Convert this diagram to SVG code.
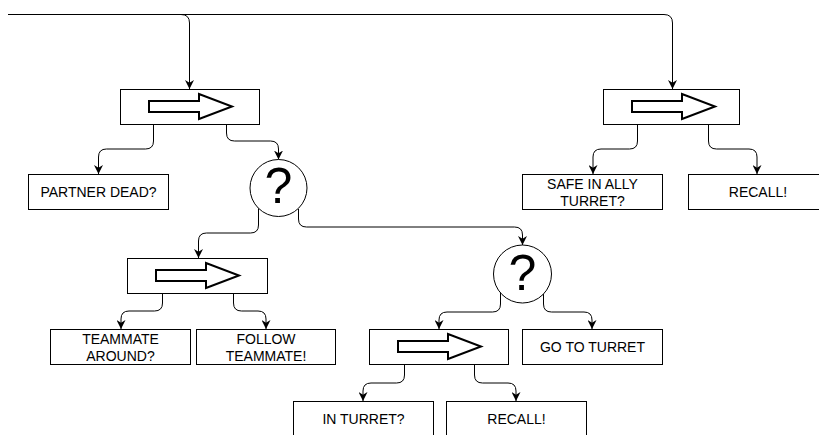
<svg xmlns="http://www.w3.org/2000/svg" xmlns:xlink="http://www.w3.org/1999/xlink" width="819" height="435" viewBox="0 0 819 435">
  <style>
    .box { fill: #ffffff; stroke: #000000; stroke-width: 1; }
    .seq { fill: #ffffff; stroke: #000000; stroke-width: 2; stroke-linejoin: miter; }
    .sel { fill: #ffffff; stroke: #000000; stroke-width: 1; }
    .lbl { font-family: "Liberation Sans", Arial, sans-serif; font-size: 14px; fill: #000000; text-anchor: middle; }
    .q { font-family: "Liberation Sans", Arial, sans-serif; font-size: 50px; fill: #000000; text-anchor: middle; }
    .edge { fill: none; stroke: #000000; stroke-width: 1; marker-end: url(#ah); }
  </style>
  <defs>
    <marker id="ah" viewBox="0 0 10 10" refX="10" refY="5" markerWidth="9" markerHeight="9" orient="auto" markerUnits="userSpaceOnUse">
      <path d="M0,0 L10,5 L0,10 L3,5 Z" fill="#000000"/>
    </marker>
    <!-- block-arrow glyph for sequence nodes, relative to the node's top-left corner -->
    <polygon id="seqArrow" class="seq" points="29,12 79,12 79,5 112,17.5 79,30 79,23 29,23"/>
  </defs>

  <rect width="819" height="435" fill="#ffffff"/>

  <g id="connectors">
    <path class="edge" d="M8,14.5 H181 Q189.5,14.5 189.5,23 V89"/>
    <path class="edge" d="M8,14.5 H664 Q672.5,14.5 672.5,23 V89"/>
    <path class="edge" d="M153.5,124 V141 Q153.5,149 145.5,149 H106.5 Q98.5,149 98.5,157 V174"/>
    <path class="edge" d="M226.5,124 V133 Q226.5,141 234.5,141 H270.5 Q278.5,141 278.5,149 V159.5"/>
    <path class="edge" d="M258.5,208 V225 Q258.5,233 250.5,233 H206.5 Q198.5,233 198.5,241 V258"/>
    <path class="edge" d="M298.5,209 V219 Q298.5,227 306.5,227 H514.5 Q522.5,227 522.5,235 V245"/>
    <path class="edge" d="M637.5,124 V141 Q637.5,149 629.5,149 H601 Q593,149 593,157 V174"/>
    <path class="edge" d="M708.5,124 V141 Q708.5,149 716.5,149 H749 Q757,149 757,157 V174"/>
    <path class="edge" d="M162.5,293 V303 Q162.5,311 154.5,311 H129 Q121,311 121,319 V329"/>
    <path class="edge" d="M233.5,293 V303 Q233.5,311 241.5,311 H258 Q266,311 266,319 V329"/>
    <path class="edge" d="M500.5,292 V304 Q500.5,312 492.5,312 H447 Q439,312 439,320 V329"/>
    <path class="edge" d="M543.5,294 V304 Q543.5,312 551.5,312 H584 Q592,312 592,320 V329"/>
    <path class="edge" d="M404.5,364 V375 Q404.5,383 396.5,383 H371 Q363,383 363,391 V401"/>
    <path class="edge" d="M474.5,364 V375 Q474.5,383 482.5,383 H508 Q516,383 516,391 V401"/>
  </g>

  <!-- sequence nodes -->
  <g id="seq-root-left">
    <rect class="box" x="120.5" y="89.5" width="139" height="35"/>
    <use xlink:href="#seqArrow" x="120" y="89"/>
  </g>
  <g id="seq-root-right">
    <rect class="box" x="603.5" y="89.5" width="136" height="35"/>
    <use xlink:href="#seqArrow" x="603" y="89"/>
  </g>
  <g id="seq-teammate">
    <rect class="box" x="127.5" y="258.5" width="140" height="35"/>
    <use xlink:href="#seqArrow" x="127" y="258"/>
  </g>
  <g id="seq-turret">
    <rect class="box" x="369.5" y="329.5" width="139" height="35"/>
    <use xlink:href="#seqArrow" x="369" y="329"/>
  </g>

  <!-- selector nodes -->
  <g id="sel-main">
    <circle class="sel" cx="278.5" cy="188" r="28.5"/>
    <text class="q" x="278.5" y="202.5">?</text>
  </g>
  <g id="sel-turret">
    <circle class="sel" cx="522.5" cy="274" r="29"/>
    <text class="q" x="522.5" y="289.5">?</text>
  </g>

  <!-- leaf nodes -->
  <g id="partner-dead">
    <rect class="box" x="28.5" y="174.5" width="140" height="35"/>
    <text class="lbl" x="98.5" y="196.5">PARTNER DEAD?</text>
  </g>
  <g id="safe-in-ally-turret">
    <rect class="box" x="522.5" y="174.5" width="140" height="35"/>
    <text class="lbl" x="592.5" y="188.5">SAFE IN ALLY</text>
    <text class="lbl" x="592.5" y="205.5">TURRET?</text>
  </g>
  <g id="recall-top">
    <rect class="box" x="688.5" y="174.5" width="140" height="35"/>
    <text class="lbl" x="758" y="196.5">RECALL!</text>
  </g>
  <g id="teammate-around">
    <rect class="box" x="50.5" y="329.5" width="140" height="35"/>
    <text class="lbl" x="120.5" y="343.5">TEAMMATE</text>
    <text class="lbl" x="120.5" y="360.5">AROUND?</text>
  </g>
  <g id="follow-teammate">
    <rect class="box" x="196.5" y="329.5" width="139" height="35"/>
    <text class="lbl" x="266" y="343.5">FOLLOW</text>
    <text class="lbl" x="266" y="360.5">TEAMMATE!</text>
  </g>
  <g id="go-to-turret">
    <rect class="box" x="522.5" y="329.5" width="140" height="35"/>
    <text class="lbl" x="592.5" y="351.5">GO TO TURRET</text>
  </g>
  <g id="in-turret">
    <rect class="box" x="293.5" y="401.5" width="140" height="35"/>
    <text class="lbl" x="363.5" y="423.5">IN TURRET?</text>
  </g>
  <g id="recall-bottom">
    <rect class="box" x="446.5" y="401.5" width="140" height="35"/>
    <text class="lbl" x="516.5" y="423.5">RECALL!</text>
  </g>
</svg>
